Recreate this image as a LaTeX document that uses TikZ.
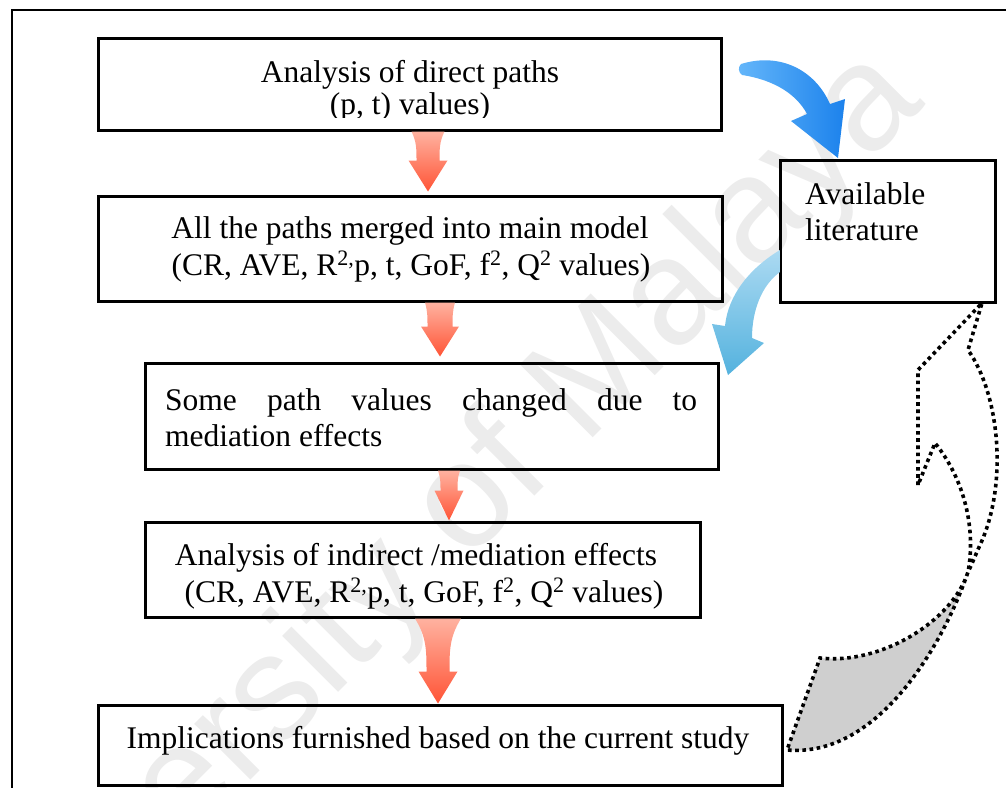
\documentclass[tikz,border=0pt]{standalone}
\usepackage{fontspec}
\setmainfont{Liberation Serif}
\newfontfamily\wmfont{Liberation Sans}
\usetikzlibrary{calc}

\definecolor{salmonTop}{RGB}{255,178,160}
\definecolor{salmonBot}{RGB}{255,84,54}
\definecolor{azureA}{RGB}{100,182,250}
\definecolor{azureB}{RGB}{28,130,236}
\definecolor{skyA}{RGB}{172,218,242}
\definecolor{skyB}{RGB}{84,178,222}
\definecolor{shadowgray}{RGB}{207,207,207}
\definecolor{wmgray}{RGB}{236,236,236}

% Red block arrow between two boxes:
% #1 upper node, #2 lower node, #3 centre x, #4 half width at top,
% #5 half width at neck, #6 half width of head, #7 head length, #8 gap above lower node
\newcommand{\flowarrow}[8]{%
  \shade[top color=salmonTop, bottom color=salmonBot]
  let \p1=(#1.south), \p2=(#2.north) in
  (#3pt-#4pt, \y1)
    .. controls (#3pt-#5pt, {(\y1)-0.35*((\y1)-(\y2)-#8pt-#7pt)})
            and (#3pt-#5pt, {(\y1)-0.6*((\y1)-(\y2)-#8pt-#7pt)}) ..
  (#3pt-#5pt, {(\y2)+#8pt+#7pt}) -- (#3pt-#6pt, {(\y2)+#8pt+#7pt})
  -- (#3pt, {(\y2)+#8pt})
  -- (#3pt+#6pt, {(\y2)+#8pt+#7pt}) -- (#3pt+#5pt, {(\y2)+#8pt+#7pt})
    .. controls (#3pt+#5pt, {(\y1)-0.6*((\y1)-(\y2)-#8pt-#7pt)})
            and (#3pt+#5pt, {(\y1)-0.35*((\y1)-(\y2)-#8pt-#7pt)}) ..
  (#3pt+#4pt, \y1) -- cycle;}

\begin{document}
\begin{tikzpicture}[x=1pt,y=-1pt,
  box/.style={draw=black, line width=3pt, inner sep=0pt},
  txt/.style={font=\fontsize{31.5}{37}\selectfont, inner sep=0pt, anchor=base},
  dots/.style={line width=3.6pt, dash pattern=on 3.6pt off 3.6pt, black}]

\path[use as bounding box, clip] (0,0) rectangle (1006,787);

% watermark
\node[font=\wmfont\fontsize{150}{150}\selectfont, text=wmgray, rotate=45, inner sep=0pt]
  (wm) at (422,554) {University of Malaya};

% outer frame
\draw[line width=2.5pt] (12,10) rectangle (1040,830);

% boxes
\node[box, minimum width=623pt, minimum height=92pt]  (b1)  at (409.5,84) {};
\node[box, minimum width=624pt, minimum height=105pt] (b2)  at (410,248.5) {};
\node[box, minimum width=573pt, minimum height=106pt] (b3)  at (431.5,416) {};
\node[box, minimum width=555pt, minimum height=95pt]  (b4)  at (422.5,569.5) {};
\node[box, minimum width=684pt, minimum height=80pt]  (b5)  at (440,745) {};
\node[box, minimum width=215pt, minimum height=142pt] (lit) at (887.5,231) {};

% texts
\node[txt] (t1a) at (410,82) {Analysis of direct paths};
\begin{scope}
  \clip (100,40) rectangle (720,117);
  \node[txt] (t1b) at (410,114) {(p, t) values)};
\end{scope}
\node[txt] (t2a) at (410,238) {All the paths merged into main model};
\node[txt] (t2b) at (411,275) {(CR, AVE, R\textsuperscript{2,}p, t, GoF, f\textsuperscript{2}, Q\textsuperscript{2} values)};
\node[txt, anchor=base west] (t3a) at (165,410) {\makebox[532pt][s]{Some path values changed due to}};
\node[txt, anchor=base west] (t3b) at (165,446) {mediation effects};
\node[txt] (t4a) at (416,565) {Analysis of indirect /mediation effects};
\node[txt] (t4b) at (424,602) {(CR, AVE, R\textsuperscript{2,}p, t, GoF, f\textsuperscript{2}, Q\textsuperscript{2} values)};
\node[txt] (t5) at (438,748) {Implications furnished based on the current study};
\node[txt, anchor=base west] (tla) at (805,204) {Available};
\node[txt, anchor=base west] (tlb) at (805,240) {literature};

% red flow arrows
\flowarrow{b1}{b2}{428}{16.5}{11.5}{19.5}{31}{3}
\flowarrow{b2}{b3}{440}{15}{12.5}{19}{30}{5}
\flowarrow{b3}{b4}{449}{11}{8.5}{14.5}{30}{0}
\flowarrow{b4}{b5}{438}{23}{11.5}{19.5}{32}{0}

% curved blue arrow towards the literature box
\shade[left color=azureA, right color=azureB]
  (741,64) .. controls (780,52) and (815,70) .. (830,104)
  -- (845,99) -- (838,158) -- (791,121) -- (807,114)
  .. controls (797,95) and (775,80) .. (742,75)
  .. controls (738,72) and (738,67) .. (741,64) -- cycle;

% curved light blue arrow out of the literature box
\shade[top color=skyA, bottom color=skyB]
  (780,250) .. controls (750,268) and (728,295) .. (725,326)
  -- (712,324) -- (728,375) -- (764,343) -- (752,338)
  .. controls (752,310) and (762,285) .. (780,272) -- cycle;

% dotted curved arrow back to the literature box
\fill[shadowgray]
  (787,750) -- (820,658) .. controls (880,665) and (952,622) .. (968,572)
  .. controls (945,640) and (880,758) .. (787,750) -- cycle;
\draw[dots]
  (918,485) -- (918,370) -- (982,303) -- (968,350)
  .. controls (1000,395) and (1008,485) .. (980,545)
  .. controls (975,556) and (972,564) .. (968,572)
  .. controls (945,640) and (880,758) .. (787,750)
  -- (820,658)
  .. controls (880,665) and (952,622) .. (968,572)
  .. controls (976,530) and (965,480) .. (935,443)
  -- cycle;
\end{tikzpicture}
\end{document}
